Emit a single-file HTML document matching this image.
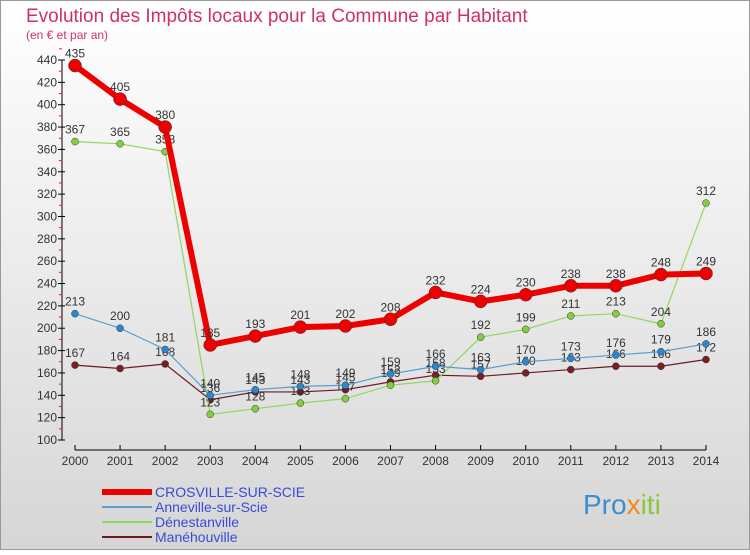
<!DOCTYPE html>
<html><head><meta charset="utf-8"><style>
body{margin:0;width:750px;height:550px;overflow:hidden;font-family:"Liberation Sans",sans-serif;}
svg text{font-family:"Liberation Sans",sans-serif;}
</style></head><body>
<svg width="750" height="550" xmlns="http://www.w3.org/2000/svg">
<defs><linearGradient id="bg" x1="0" y1="0" x2="0" y2="1"><stop offset="0" stop-color="#ffffff"/><stop offset="1" stop-color="#d6d6d6"/></linearGradient></defs>
<rect x="0.5" y="0.5" width="749" height="549" fill="url(#bg)" stroke="#999"/>
<text x="26" y="22" font-size="19" fill="#d0306a">Evolution des Impôts locaux pour la Commune par Habitant</text>
<text x="26" y="39" font-size="12" fill="#d0306a">(en € et par an)</text>
<g id="axes"></g>
<g id="series"></g>
<g id="legend"></g>
<text x="583" y="514" font-size="28" fill="#3a8fd0">Pro<tspan fill="#f08a1a">x</tspan><tspan fill="#8cc63f">iti</tspan></text>
</svg>
<script>
const years=[2000,2001,2002,2003,2004,2005,2006,2007,2008,2009,2010,2011,2012,2013,2014];
const yTicks=[100,120,140,160,180,200,220,240,260,280,300,320,340,360,380,400,420,440];
const crosville=[435,405,380,185,193,201,202,208,232,224,230,238,238,248,249];
const anneville=[213,200,181,140,145,148,149,159,166,163,170,173,176,179,186];
const denestanville=[367,365,358,123,128,133,137,149,153,192,199,211,213,204,312];
const manehouville=[167,164,168,136,143,143,145,152,158,157,160,163,166,166,172];
const NS="http://www.w3.org/2000/svg";
function xS(i){return 75+i*(706-75)/(years.length-1);}
function yS(v){return 440-(v-100)*380/340;}
function mk(tag,attrs,parent){const e=document.createElementNS(NS,tag);for(const k in attrs)e.setAttribute(k,attrs[k]);parent.appendChild(e);return e;}
const ax=document.getElementById('axes');
let yl=mk('line',{x1:62,y1:yS(440),x2:62,y2:yS(100),stroke:'#000'},ax);


yTicks.forEach(t=>{
  const l=mk('line',{x1:58,x2:65,y1:yS(t),y2:yS(t),stroke:'#000'},ax);
  
  
  const m=mk('line',{x1:59,x2:62,y1:yS(t+10),y2:yS(t+10),stroke:'#e02020'},ax);
  
  
  const tx=mk('text',{x:57,y:yS(t)+4,'font-size':12,'text-anchor':'end',fill:'#333'},ax);
  tx.textContent=t;
  
  
});
let xl=mk('line',{x1:xS(0),y1:450,x2:xS(14),y2:450,stroke:'#000'},ax);


years.forEach((y,i)=>{
  const l=mk('line',{x1:xS(i),x2:xS(i),y1:445,y2:450,stroke:'#000'},ax);
  
  
  const tx=mk('text',{x:xS(i),y:465,'font-size':12,'text-anchor':'middle',fill:'#333'},ax);
  tx.textContent=y;
  
  
});
const sg=document.getElementById('series');
function draw(vals,color,w,r,name,fill){
  const g=mk('g',{},sg);
  
  
  const p=mk('polyline',{points:vals.map((v,i)=>xS(i)+','+yS(v)).join(' '),fill:'none',stroke:color,'stroke-width':w},g);
  
  
  vals.forEach((v,i)=>{
    const c=mk('circle',{cx:xS(i),cy:yS(v),r:r,fill:fill,stroke:'#333','stroke-width':0.5},g);
    
    
    const t=mk('text',{x:xS(i),y:yS(v)-8,'font-size':12,'text-anchor':'middle',fill:'#333'},g);
    t.textContent=v;
    
    
  });
}
draw(manehouville,'#6b1a20',1.2,3.5,'manehouville','#7a1e25');
draw(denestanville,'#8fd860',1.2,3.5,'denestanville','#7fd040');
draw(anneville,'#5a9ed0',1.2,3.5,'anneville','#2a88d0');
draw(crosville,'#ee0000',6,6.5,'crosville','#ee0000');
const lg=document.getElementById('legend');
const leg=[['CROSVILLE-SUR-SCIE','#ee0000',6],['Anneville-sur-Scie','#5a9ed0',2],['Dénestanville','#8fd860',2],['Manéhouville','#6b1a20',2]];
leg.forEach((e,i)=>{
  const y=492+i*15;
  const l=mk('line',{x1:102,x2:152,y1:y,y2:y,stroke:e[1],'stroke-width':e[2]},lg);
  
  
  const t=mk('text',{x:155,y:y+5,'font-size':14,fill:'#3a4ad8'},lg);
  t.textContent=e[0];
  
  
});
</script>
</body></html>
